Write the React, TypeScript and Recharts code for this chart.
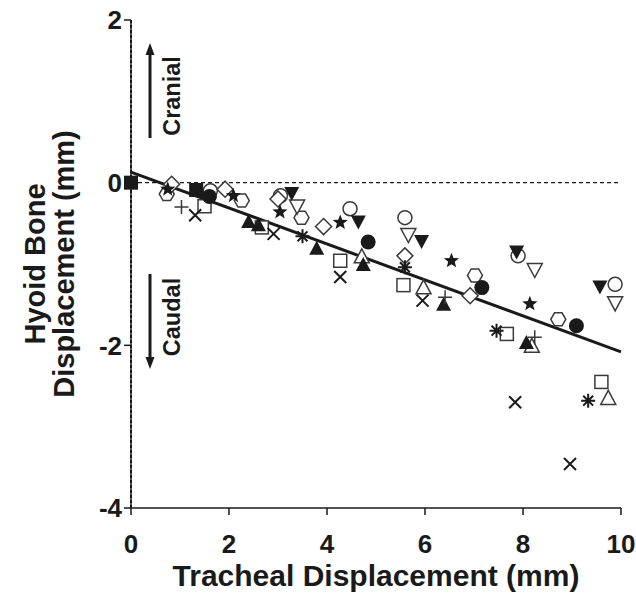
import React from 'react';
import { ScatterChart, Scatter, XAxis, YAxis, ReferenceLine, Customized } from 'recharts';

// ---- data (Tracheal displacement mm, Hyoid displacement mm) ----
const xTicks = [0, 2, 4, 6, 8, 10];
const yTicks = [-4, -2, 0, 2];

const filledSquareX = [0, 1.33];
const filledSquareY = [0, -0.09];
const openSquareX = [1.5, 2.67, 4.27, 5.56, 7.67, 9.6];
const openSquareY = [-0.29, -0.55, -0.96, -1.26, -1.86, -2.45];
const filledCircleX = [1.6, 4.84, 7.16, 9.09];
const filledCircleY = [-0.17, -0.73, -1.29, -1.76];
const openCircleX = [1.62, 3.05, 4.47, 5.59, 7.9, 9.88];
const openCircleY = [-0.1, -0.16, -0.32, -0.43, -0.9, -1.25];
const filledTriUpX = [2.4, 2.6, 3.79, 4.74, 6.38, 8.07];
const filledTriUpY = [-0.47, -0.51, -0.8, -1.0, -1.49, -1.96];
const openTriUpX = [4.71, 5.97, 8.18, 9.74];
const openTriUpY = [-0.9, -1.28, -2.0, -2.64];
const filledTriDownX = [3.28, 4.64, 5.93, 7.87, 9.57];
const filledTriDownY = [-0.14, -0.49, -0.73, -0.86, -1.29];
const openTriDownX = [3.39, 5.66, 8.24, 9.88];
const openTriDownY = [-0.3, -0.65, -1.08, -1.49];
const diamondX = [0.83, 1.92, 3.0, 3.93, 5.59, 6.92];
const diamondY = [-0.02, -0.08, -0.2, -0.54, -0.9, -1.39];
const hexagonX = [0.73, 2.26, 3.48, 7.02, 8.72];
const hexagonY = [-0.14, -0.22, -0.43, -1.14, -1.68];
const starX = [0.75, 2.09, 3.04, 4.27, 6.54, 8.14];
const starY = [-0.08, -0.16, -0.36, -0.49, -0.96, -1.49];
const asteriskX = [3.5, 5.59, 7.46, 9.33];
const asteriskY = [-0.66, -1.04, -1.82, -2.68];
const crossX = [1.31, 2.91, 4.27, 5.95, 7.84, 8.96];
const crossY = [-0.4, -0.63, -1.16, -1.45, -2.7, -3.46];
const plusX = [1.03, 6.41, 8.24];
const plusY = [-0.3, -1.41, -1.9];

const fitX = [0, 10];
const fitY = [0.13, -2.08];

const pts = (xs: number[], ys: number[]) => xs.map((x, i) => ({ x, y: ys[i] }));

const INK = '#1a1a1a';
const OPEN = '#3a3a3a';
const FONT = '"Liberation Sans", Arial, Helvetica, sans-serif';

type P = { cx?: number; cy?: number };

const sqFilled = ({ cx = 0, cy = 0 }: P) => <rect x={cx - 7} y={cy - 7} width={14} height={14} fill={INK} />;
const sqOpen = ({ cx = 0, cy = 0 }: P) => <rect x={cx - 6.5} y={cy - 6.5} width={13} height={13} fill="#fff" stroke={OPEN} strokeWidth={1.5} />;
const cFilled = ({ cx = 0, cy = 0 }: P) => <circle cx={cx} cy={cy} r={7.5} fill={INK} />;
const cOpen = ({ cx = 0, cy = 0 }: P) => <circle cx={cx} cy={cy} r={7} fill="#fff" stroke={OPEN} strokeWidth={1.5} />;
const triPts = (cx: number, cy: number, up: boolean) => {
  const h = 14, w = 15;
  return up
    ? `${cx},${cy - h / 2} ${cx + w / 2},${cy + h / 2} ${cx - w / 2},${cy + h / 2}`
    : `${cx},${cy + h / 2} ${cx + w / 2},${cy - h / 2} ${cx - w / 2},${cy - h / 2}`;
};
const tuFilled = ({ cx = 0, cy = 0 }: P) => <polygon points={triPts(cx, cy, true)} fill={INK} />;
const tuOpen = ({ cx = 0, cy = 0 }: P) => <polygon points={triPts(cx, cy, true)} fill="#fff" stroke={OPEN} strokeWidth={1.5} />;
const tdFilled = ({ cx = 0, cy = 0 }: P) => <polygon points={triPts(cx, cy, false)} fill={INK} />;
const tdOpen = ({ cx = 0, cy = 0 }: P) => <polygon points={triPts(cx, cy, false)} fill="#fff" stroke={OPEN} strokeWidth={1.5} />;
const diamond = ({ cx = 0, cy = 0 }: P) => (
  <polygon points={`${cx},${cy - 8} ${cx + 8},${cy} ${cx},${cy + 8} ${cx - 8},${cy}`} fill="#fff" stroke={OPEN} strokeWidth={1.5} />
);
const hexagon = ({ cx = 0, cy = 0 }: P) => {
  const r = 7.5;
  const p = [0, 1, 2, 3, 4, 5].map((k) => {
    const a = (Math.PI / 3) * k;
    return `${cx + r * Math.cos(a)},${cy + r * Math.sin(a)}`;
  });
  return <polygon points={p.join(' ')} fill="#fff" stroke={OPEN} strokeWidth={1.5} />;
};
const star = ({ cx = 0, cy = 0 }: P) => {
  const p: string[] = [];
  for (let k = 0; k < 10; k++) {
    const r = k % 2 === 0 ? 8 : 3.4;
    const a = -Math.PI / 2 + (Math.PI / 5) * k;
    p.push(`${cx + r * Math.cos(a)},${cy + r * Math.sin(a)}`);
  }
  return <polygon points={p.join(' ')} fill={INK} />;
};
const asterisk = ({ cx = 0, cy = 0 }: P) => {
  const r = 7;
  const d = [0, 1, 2, 3]
    .map((k) => {
      const a = (Math.PI / 4) * k;
      return `M${cx - r * Math.cos(a)},${cy - r * Math.sin(a)}L${cx + r * Math.cos(a)},${cy + r * Math.sin(a)}`;
    })
    .join('');
  return <path d={d} stroke={INK} strokeWidth={2} fill="none" />;
};
const cross = ({ cx = 0, cy = 0 }: P) => (
  <path d={`M${cx - 6},${cy - 6}L${cx + 6},${cy + 6}M${cx - 6},${cy + 6}L${cx + 6},${cy - 6}`} stroke={INK} strokeWidth={2} fill="none" />
);
const plus = ({ cx = 0, cy = 0 }: P) => (
  <path d={`M${cx - 7},${cy}L${cx + 7},${cy}M${cx},${cy - 7}L${cx},${cy + 7}`} stroke={OPEN} strokeWidth={1.5} fill="none" />
);
const none = () => <g />;

const series = [
  { name: 'openSquare', data: pts(openSquareX, openSquareY), shape: sqOpen },
  { name: 'openCircle', data: pts(openCircleX, openCircleY), shape: cOpen },
  { name: 'hexagon', data: pts(hexagonX, hexagonY), shape: hexagon },
  { name: 'diamond', data: pts(diamondX, diamondY), shape: diamond },
  { name: 'openTriUp', data: pts(openTriUpX, openTriUpY), shape: tuOpen },
  { name: 'openTriDown', data: pts(openTriDownX, openTriDownY), shape: tdOpen },
  { name: 'filledCircle', data: pts(filledCircleX, filledCircleY), shape: cFilled },
  { name: 'filledTriUp', data: pts(filledTriUpX, filledTriUpY), shape: tuFilled },
  { name: 'filledTriDown', data: pts(filledTriDownX, filledTriDownY), shape: tdFilled },
  { name: 'star', data: pts(starX, starY), shape: star },
  { name: 'asterisk', data: pts(asteriskX, asteriskY), shape: asterisk },
  { name: 'cross', data: pts(crossX, crossY), shape: cross },
  { name: 'plus', data: pts(plusX, plusY), shape: plus },
  { name: 'filledSquare', data: pts(filledSquareX, filledSquareY), shape: sqFilled },
];

const Arrow = ({ x, y1, y2 }: { x: number; y1: number; y2: number }) => {
  const dir = y2 < y1 ? -1 : 1;
  const head = 12;
  return (
    <g>
      <line x1={x} y1={y1} x2={x} y2={y2 - dir * head} stroke={INK} strokeWidth={3} />
      <polygon points={`${x},${y2} ${x - 4.5},${y2 - dir * head} ${x + 4.5},${y2 - dir * head}`} fill={INK} />
    </g>
  );
};

const Annotations = () => (
  <g fontFamily={FONT} fill={INK}>
    <text transform="translate(45,264) rotate(-90)" textAnchor="middle" fontSize={29} fontWeight="bold">Hyoid Bone</text>
    <text transform="translate(74,264) rotate(-90)" textAnchor="middle" fontSize={29} fontWeight="bold">Displacement (mm)</text>
    <text x={376} y={586} textAnchor="middle" fontSize={30} fontWeight="bold">Tracheal Displacement (mm)</text>
    <Arrow x={150} y1={138} y2={43} />
    <Arrow x={150} y1={274} y2={369} />
    <text transform="translate(180,96) rotate(-90)" textAnchor="middle" fontSize={23.5} fontWeight="bold">Cranial</text>
    <text transform="translate(180,317) rotate(-90)" textAnchor="middle" fontSize={23.5} fontWeight="bold">Caudal</text>
  </g>
);

const tickStyle = { fontSize: 26, fontWeight: 'bold', fontFamily: FONT, fill: INK };

export default function App() {
  return (
    <div style={{ position: 'absolute', left: 0, top: 0, background: '#fff' }}>
      <ScatterChart width={636} height={594} margin={{ top: 20, right: 15, bottom: 0, left: 0 }}>
        <XAxis
          type="number"
          dataKey="x"
          domain={[0, 10]}
          ticks={xTicks}
          interval={0}
          tickSize={7}
          tickMargin={20}
          height={86}
          stroke={INK}
          strokeWidth={1.5}
          tick={tickStyle}
        />
        <YAxis
          type="number"
          dataKey="y"
          domain={[-4, 2]}
          ticks={yTicks}
          interval={0}
          tickSize={7}
          tickMargin={2}
          width={131}
          stroke={INK}
          strokeWidth={1.5}
          tick={tickStyle}
        />
        <ReferenceLine y={0} stroke={INK} strokeWidth={1.2} strokeDasharray="4 3" />
        <ReferenceLine x={0} stroke={INK} strokeWidth={2} strokeDasharray="3 2" />
        <Scatter
          name="fit"
          data={pts(fitX, fitY)}
          line={{ stroke: INK, strokeWidth: 3 }}
          shape={none}
          isAnimationActive={false}
          legendType="none"
        />
        {series.map((s) => (
          <Scatter key={s.name} name={s.name} data={s.data} shape={s.shape} isAnimationActive={false} />
        ))}
        <Customized component={Annotations} />
      </ScatterChart>
    </div>
  );
}
